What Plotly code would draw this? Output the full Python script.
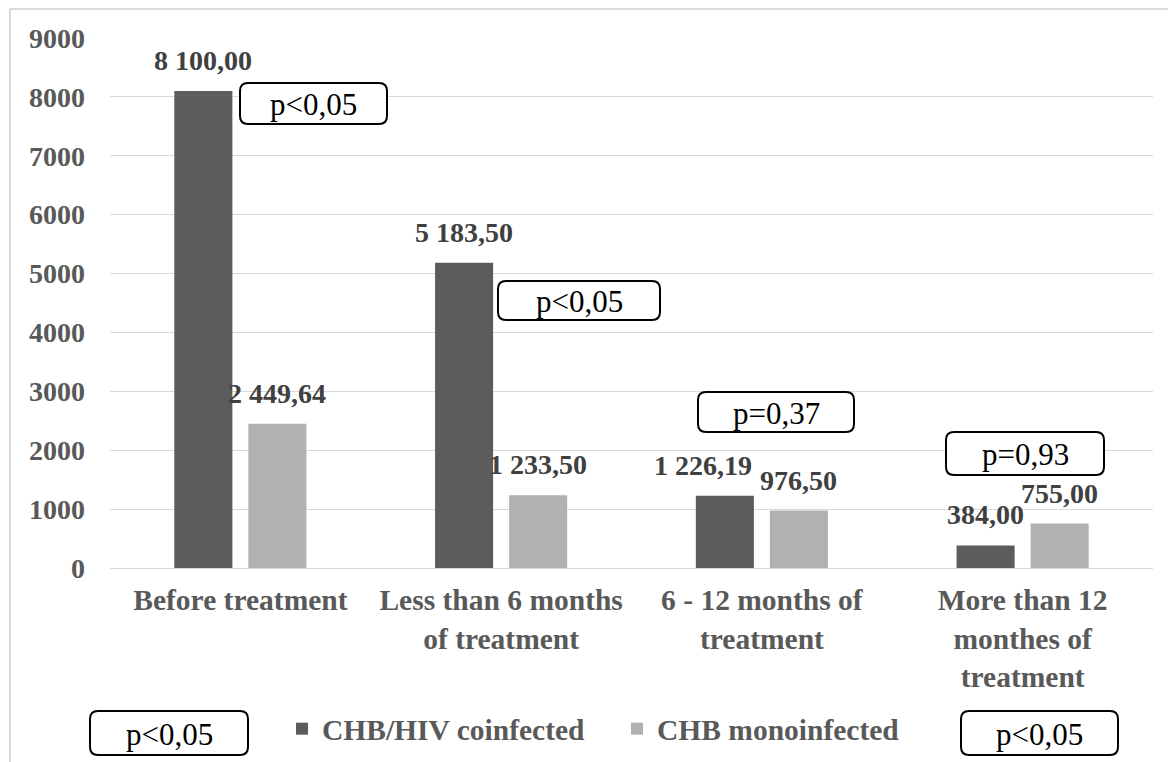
import plotly.graph_objects as go

categories = [
    "Before treatment",
    "Less than 6 months<br>of treatment",
    "6 - 12 months of<br>treatment",
    "More than 12<br>monthes of<br>treatment",
]
coinfected = [8100.00, 5183.50, 1226.19, 384.00]
monoinfected = [2449.64, 1233.50, 976.50, 755.00]
series_names = ["CHB/HIV coinfected", "CHB monoinfected"]
p_labels = ["p&lt;0,05", "p&lt;0,05", "p=0,37", "p=0,93"]
legend_p = ["p&lt;0,05", "p&lt;0,05"]
y_ticks = list(range(0, 9001, 1000))

OFF = 8  # page body margin of the browser
W, H = 1168, 754
ML, MT = 110 - OFF, 38 - OFF
MR = W - (1153 - OFF)
MB = H - (568 - OFF)
PW = W - ML - MR
PH = H - MT - MB


def fmt(v):
    s = f"{v:,.2f}"
    return s.replace(",", " ").replace(".", ",")


def bold(s):
    return "<br>".join(f"<b>{part}</b>" for part in s.split("<br>"))


def sx(px):
    return (px - OFF - ML) / PW


def sy(py):
    return (H - MB - (py - OFF)) / PH


FONT = "Liberation Serif"
DARK = "#5c5c5c"
LIGHT = "#b1b1b1"

fig = go.Figure()
for name, vals, col in [(series_names[0], coinfected, DARK), (series_names[1], monoinfected, LIGHT)]:
    fig.add_trace(go.Bar(x=categories, y=vals, name=bold(name),
                         marker=dict(color=col, line=dict(width=0))))

annotations = []
# value labels, placed at the bar tops through the data axes
for vals, dx, nudges in [(coinfected, -37, [0, 0, -22, 0]), (monoinfected, 37, [0, 0, 0, 0])]:
    for cat, v, n in zip(categories, vals, nudges):
        annotations.append(dict(x=cat, y=v, xref="x", yref="y", text=bold(fmt(v)), showarrow=False,
                                xshift=dx + n, yshift=13, xanchor="center", yanchor="bottom",
                                font=dict(family=FONT, size=28, color="#404040")))


def rounded_path(x0, y0, x1, y1, r=8):
    def P(x, y):
        return f"{sx(x):.5f},{sy(y):.5f}"
    return (
        f"M{P(x0 + r, y0)} L{P(x1 - r, y0)} Q{P(x1, y0)} {P(x1, y0 + r)} "
        f"L{P(x1, y1 - r)} Q{P(x1, y1)} {P(x1 - r, y1)} "
        f"L{P(x0 + r, y1)} Q{P(x0, y1)} {P(x0, y1 - r)} "
        f"L{P(x0, y0 + r)} Q{P(x0, y0)} {P(x0 + r, y0)} Z"
    )


boxes = [
    (240, 83, 387, 124, p_labels[0]),
    (498, 281, 660, 320, p_labels[1]),
    (698, 392, 854, 432, p_labels[2]),
    (946, 432, 1104, 475, p_labels[3]),
    (90, 711, 248, 755, legend_p[0]),
    (961, 711, 1118, 755, legend_p[1]),
]
shapes = []
for x0, y0, x1, y1, txt in boxes:
    shapes.append(dict(type="path", xref="paper", yref="paper", path=rounded_path(x0, y0, x1, y1),
                       line=dict(color="black", width=2), fillcolor="white", layer="above"))
    annotations.append(dict(xref="paper", yref="paper", x=sx((x0 + x1) / 2), y=sy((y0 + y1) / 2 + 1),
                            text=txt, showarrow=False, xanchor="center", yanchor="middle",
                            font=dict(family=FONT, size=31, color="black")))

# outer chart border (left and top)
shapes.append(dict(type="line", xref="paper", yref="paper", x0=sx(10), x1=sx(10),
                   y0=sy(9), y1=sy(H + 20), line=dict(color="#d9d9d9", width=2)))
shapes.append(dict(type="line", xref="paper", yref="paper", x0=sx(10), x1=sx(W + 20),
                   y0=sy(9), y1=sy(9), line=dict(color="#d9d9d9", width=2)))

fig.update_layout(
    width=W, height=H,
    margin=dict(l=ML, r=MR, t=MT, b=MB, autoexpand=False),
    paper_bgcolor="white", plot_bgcolor="white",
    barmode="group", bargap=0.432, bargroupgap=0.216,
    shapes=shapes, annotations=annotations,
    showlegend=True,
    legend=dict(orientation="h", xref="paper", yref="paper", x=sx(282), y=sy(729),
                xanchor="left", yanchor="middle",
                font=dict(family=FONT, size=29.5, color="#595959"),
                itemwidth=30, entrywidth=290, tracegroupgap=0, bgcolor="rgba(0,0,0,0)"),
    xaxis=dict(tickvals=categories, ticktext=[bold(c) for c in categories],
               tickfont=dict(family=FONT, size=29.5, color="#595959"),
               showline=True, linecolor="#d9d9d9", linewidth=1, ticks="", showgrid=False,
               ticklabelstandoff=6),
    yaxis=dict(range=[0, 9000], tickvals=y_ticks, ticktext=[bold(str(t)) for t in y_ticks],
               showgrid=True, gridcolor="#d9d9d9", gridwidth=1,
               zeroline=False, ticks="", ticklabelstandoff=24,
               tickfont=dict(family=FONT, size=28, color="#595959")),
)

fig.write_html("out.html")
